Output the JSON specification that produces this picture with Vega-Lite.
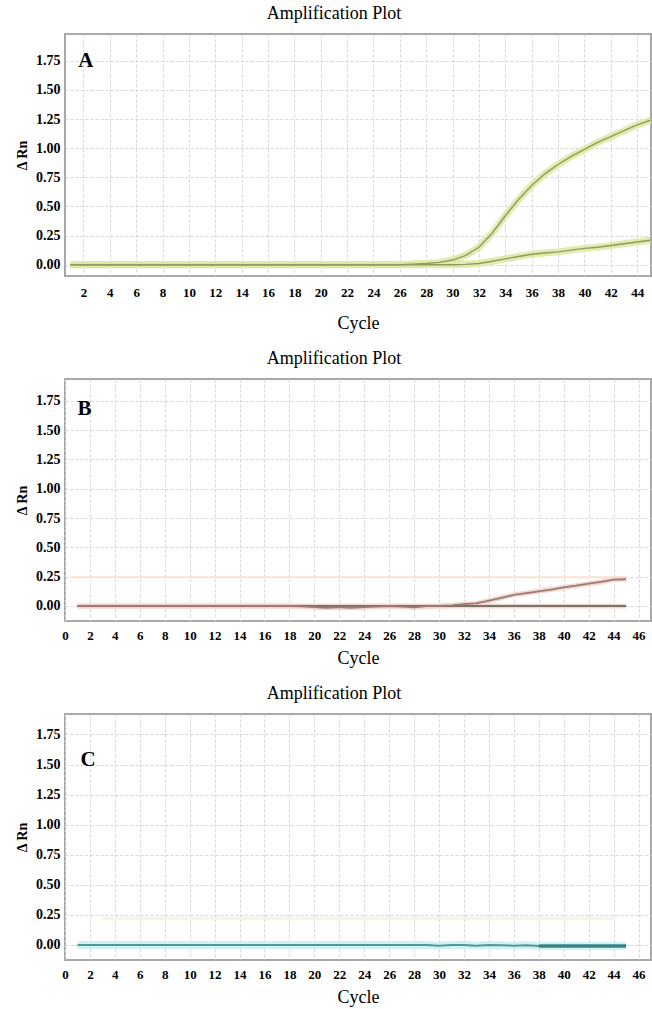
{
  "$schema": "https://vega.github.io/schema/vega-lite/v6.json",
  "background": "white",
  "padding": {"left": 14, "top": 4, "right": 0, "bottom": 0},
  "config": {
    "font": "Liberation Serif, Times New Roman, serif",
    "view": {"stroke": "#a8a8a8", "strokeWidth": 2},
    "axis": {"labelFont": "Liberation Serif, Times New Roman, serif", "labelFontWeight": "bold", "labelFontSize": 14, "labelColor": "#000", "titleFont": "Liberation Serif, Times New Roman, serif", "titleColor": "#000", "ticks": false, "domain": false, "gridColor": "#d6d6d6", "gridDash": [3, 2], "gridWidth": 1},
    "axisY": {"titleFontWeight": "bold", "titleFontSize": 14, "labelPadding": 5, "titlePadding": 6},
    "axisX": {"titleFontWeight": "normal", "titleFontSize": 18, "labelFontSize": 13, "labelFlush": false},
    "title": {"font": "Liberation Serif, Times New Roman, serif", "fontSize": 18, "fontWeight": "normal", "color": "#000", "offset": 11},
    "concat": {"spacing": 16}
  },
  "datasets": {
    "curves": [
      {"panel":"A","series":"H","cycle":1,"rn":0},{"panel":"A","series":"H","cycle":2,"rn":0},{"panel":"A","series":"H","cycle":3,"rn":0},{"panel":"A","series":"H","cycle":4,"rn":0},{"panel":"A","series":"H","cycle":5,"rn":0},{"panel":"A","series":"H","cycle":6,"rn":0},{"panel":"A","series":"H","cycle":7,"rn":0},{"panel":"A","series":"H","cycle":8,"rn":0},{"panel":"A","series":"H","cycle":9,"rn":0},{"panel":"A","series":"H","cycle":10,"rn":0},{"panel":"A","series":"H","cycle":11,"rn":0},{"panel":"A","series":"H","cycle":12,"rn":0},{"panel":"A","series":"H","cycle":13,"rn":0},{"panel":"A","series":"H","cycle":14,"rn":0},{"panel":"A","series":"H","cycle":15,"rn":0},{"panel":"A","series":"H","cycle":16,"rn":0},{"panel":"A","series":"H","cycle":17,"rn":0},{"panel":"A","series":"H","cycle":18,"rn":0},{"panel":"A","series":"H","cycle":19,"rn":0},{"panel":"A","series":"H","cycle":20,"rn":0},{"panel":"A","series":"H","cycle":21,"rn":0},{"panel":"A","series":"H","cycle":22,"rn":0},{"panel":"A","series":"H","cycle":23,"rn":0},{"panel":"A","series":"H","cycle":24,"rn":0},{"panel":"A","series":"H","cycle":25,"rn":0},{"panel":"A","series":"H","cycle":26,"rn":0},{"panel":"A","series":"H","cycle":27,"rn":0.005},{"panel":"A","series":"H","cycle":28,"rn":0.01},{"panel":"A","series":"H","cycle":29,"rn":0.02},{"panel":"A","series":"H","cycle":30,"rn":0.04},{"panel":"A","series":"H","cycle":31,"rn":0.08},{"panel":"A","series":"H","cycle":32,"rn":0.15},{"panel":"A","series":"H","cycle":33,"rn":0.27},{"panel":"A","series":"H","cycle":34,"rn":0.42},{"panel":"A","series":"H","cycle":35,"rn":0.56},{"panel":"A","series":"H","cycle":36,"rn":0.68},{"panel":"A","series":"H","cycle":37,"rn":0.78},{"panel":"A","series":"H","cycle":38,"rn":0.86},{"panel":"A","series":"H","cycle":39,"rn":0.93},{"panel":"A","series":"H","cycle":40,"rn":0.99},{"panel":"A","series":"H","cycle":41,"rn":1.05},{"panel":"A","series":"H","cycle":42,"rn":1.1},{"panel":"A","series":"H","cycle":43,"rn":1.15},{"panel":"A","series":"H","cycle":44,"rn":1.2},{"panel":"A","series":"H","cycle":45,"rn":1.24},
      {"panel":"A","series":"L","cycle":1,"rn":0},{"panel":"A","series":"L","cycle":5,"rn":0},{"panel":"A","series":"L","cycle":10,"rn":0},{"panel":"A","series":"L","cycle":15,"rn":0},{"panel":"A","series":"L","cycle":20,"rn":0},{"panel":"A","series":"L","cycle":25,"rn":0},{"panel":"A","series":"L","cycle":29,"rn":0},{"panel":"A","series":"L","cycle":30,"rn":0},{"panel":"A","series":"L","cycle":31,"rn":0.003},{"panel":"A","series":"L","cycle":32,"rn":0.01},{"panel":"A","series":"L","cycle":33,"rn":0.03},{"panel":"A","series":"L","cycle":34,"rn":0.05},{"panel":"A","series":"L","cycle":35,"rn":0.07},{"panel":"A","series":"L","cycle":36,"rn":0.09},{"panel":"A","series":"L","cycle":37,"rn":0.1},{"panel":"A","series":"L","cycle":38,"rn":0.11},{"panel":"A","series":"L","cycle":39,"rn":0.125},{"panel":"A","series":"L","cycle":40,"rn":0.14},{"panel":"A","series":"L","cycle":41,"rn":0.15},{"panel":"A","series":"L","cycle":42,"rn":0.165},{"panel":"A","series":"L","cycle":43,"rn":0.18},{"panel":"A","series":"L","cycle":44,"rn":0.195},{"panel":"A","series":"L","cycle":45,"rn":0.21},
      {"panel":"B","series":"base","cycle":1,"rn":0},{"panel":"B","series":"base","cycle":45,"rn":0},
      {"panel":"B","series":"red","cycle":1,"rn":0},{"panel":"B","series":"red","cycle":10,"rn":0},{"panel":"B","series":"red","cycle":18,"rn":0},{"panel":"B","series":"red","cycle":19,"rn":-0.003},{"panel":"B","series":"red","cycle":20,"rn":-0.01},{"panel":"B","series":"red","cycle":21,"rn":-0.015},{"panel":"B","series":"red","cycle":22,"rn":-0.01},{"panel":"B","series":"red","cycle":23,"rn":-0.015},{"panel":"B","series":"red","cycle":24,"rn":-0.01},{"panel":"B","series":"red","cycle":25,"rn":-0.005},{"panel":"B","series":"red","cycle":26,"rn":0},{"panel":"B","series":"red","cycle":27,"rn":-0.005},{"panel":"B","series":"red","cycle":28,"rn":-0.012},{"panel":"B","series":"red","cycle":29,"rn":-0.002},{"panel":"B","series":"red","cycle":30,"rn":0},{"panel":"B","series":"red","cycle":31,"rn":0.005},{"panel":"B","series":"red","cycle":32,"rn":0.015},{"panel":"B","series":"red","cycle":33,"rn":0.022},{"panel":"B","series":"red","cycle":34,"rn":0.045},{"panel":"B","series":"red","cycle":35,"rn":0.07},{"panel":"B","series":"red","cycle":36,"rn":0.095},{"panel":"B","series":"red","cycle":37,"rn":0.11},{"panel":"B","series":"red","cycle":38,"rn":0.125},{"panel":"B","series":"red","cycle":39,"rn":0.14},{"panel":"B","series":"red","cycle":40,"rn":0.158},{"panel":"B","series":"red","cycle":41,"rn":0.173},{"panel":"B","series":"red","cycle":42,"rn":0.19},{"panel":"B","series":"red","cycle":43,"rn":0.205},{"panel":"B","series":"red","cycle":44,"rn":0.225},{"panel":"B","series":"red","cycle":45,"rn":0.228},
      {"panel":"C","series":"teal","cycle":1,"rn":0},{"panel":"C","series":"teal","cycle":10,"rn":0},{"panel":"C","series":"teal","cycle":20,"rn":0},{"panel":"C","series":"teal","cycle":29,"rn":0},{"panel":"C","series":"teal","cycle":30,"rn":-0.006},{"panel":"C","series":"teal","cycle":31,"rn":0},{"panel":"C","series":"teal","cycle":32,"rn":0},{"panel":"C","series":"teal","cycle":33,"rn":-0.006},{"panel":"C","series":"teal","cycle":34,"rn":0},{"panel":"C","series":"teal","cycle":35,"rn":-0.002},{"panel":"C","series":"teal","cycle":36,"rn":-0.006},{"panel":"C","series":"teal","cycle":37,"rn":-0.002},{"panel":"C","series":"teal","cycle":38,"rn":-0.008},{"panel":"C","series":"teal","cycle":39,"rn":-0.008},{"panel":"C","series":"teal","cycle":40,"rn":-0.008},{"panel":"C","series":"teal","cycle":41,"rn":-0.008},{"panel":"C","series":"teal","cycle":42,"rn":-0.008},{"panel":"C","series":"teal","cycle":43,"rn":-0.008},{"panel":"C","series":"teal","cycle":44,"rn":-0.008},{"panel":"C","series":"teal","cycle":45,"rn":-0.008},
      {"panel":"C","series":"dark","cycle":38,"rn":-0.008},{"panel":"C","series":"dark","cycle":45,"rn":-0.008}
    ],
    "labels": [
      {"panel":"A","cycle":1.6,"rn":1.75,"name":"A"},
      {"panel":"B","cycle":1.0,"rn":1.68,"name":"B"},
      {"panel":"C","cycle":1.25,"rn":1.54,"name":"C"}
    ],
    "thresholds": [
      {"panel":"B","cycle":0.5,"cycle2":45,"rn":0.245},
      {"panel":"C","cycle":3,"cycle2":44,"rn":0.22}
    ]
  },
  "vconcat": [
    {
      "title": {"text": "Amplification Plot", "dx": -24},
      "width": 586, "height": 242,
      "encoding": {
        "x": {"field": "cycle", "type": "quantitative", "scale": {"domain": [0.6, 45.05], "nice": false, "zero": false},
              "axis": {"values": [2,4,6,8,10,12,14,16,18,20,22,24,26,28,30,32,34,36,38,40,42,44], "title": "Cycle", "labelPadding": 10, "titlePadding": 15}},
        "y": {"field": "rn", "type": "quantitative", "scale": {"domain": [-0.097, 1.98], "nice": false, "zero": false},
              "axis": {"values": [0,0.25,0.5,0.75,1,1.25,1.5,1.75], "format": ".2f", "title": "Δ Rn"}}
      },
      "layer": [
        {"data": {"name": "curves"}, "transform": [{"filter": "datum.panel == 'A'"}], "mark": {"type": "line", "strokeWidth": 7, "color": "#dde9a4", "opacity": 0.9, "clip": true}, "encoding": {"detail": {"field": "series"}}},
        {"data": {"name": "curves"}, "transform": [{"filter": "datum.panel == 'A'"}], "mark": {"type": "line", "strokeWidth": 1.4, "color": "#8f9b60", "clip": true}, "encoding": {"detail": {"field": "series"}}},
        {"data": {"name": "labels"}, "transform": [{"filter": "datum.panel == 'A'"}], "mark": {"type": "text", "align": "left", "baseline": "middle", "fontSize": 21, "fontWeight": "bold", "font": "Liberation Serif, Times New Roman, serif", "color": "#000"}, "encoding": {"text": {"field": "name"}}}
      ]
    },
    {
      "title": {"text": "Amplification Plot", "dx": -24},
      "width": 586, "height": 242,
      "encoding": {
        "x": {"field": "cycle", "type": "quantitative", "scale": {"domain": [0, 47], "nice": false, "zero": false},
              "axis": {"values": [0,2,4,6,8,10,12,14,16,18,20,22,24,26,28,30,32,34,36,38,40,42,44,46], "title": "Cycle", "labelPadding": 8, "titlePadding": 7}},
        "y": {"field": "rn", "type": "quantitative", "scale": {"domain": [-0.128, 1.935], "nice": false, "zero": false},
              "axis": {"values": [0,0.25,0.5,0.75,1,1.25,1.5,1.75], "format": ".2f", "title": "Δ Rn"}}
      },
      "layer": [
        {"data": {"name": "thresholds"}, "transform": [{"filter": "datum.panel == 'B'"}], "mark": {"type": "rule", "strokeWidth": 2, "color": "#fbe2cf"}, "encoding": {"x2": {"field": "cycle2"}}},
        {"data": {"name": "curves"}, "transform": [{"filter": "datum.panel == 'B'"}], "mark": {"type": "line", "strokeWidth": 5, "color": "#f3d2cc", "opacity": 0.9}, "encoding": {"detail": {"field": "series"}}},
        {"data": {"name": "curves"}, "transform": [{"filter": "datum.panel == 'B' && datum.series == 'base'"}], "mark": {"type": "line", "strokeWidth": 2.2, "color": "#7a7468"}, "encoding": {}},
        {"data": {"name": "curves"}, "transform": [{"filter": "datum.panel == 'B' && datum.series == 'red'"}], "mark": {"type": "line", "strokeWidth": 1.8, "color": "#9a7c72"}, "encoding": {}},
        {"data": {"name": "labels"}, "transform": [{"filter": "datum.panel == 'B'"}], "mark": {"type": "text", "align": "left", "baseline": "middle", "fontSize": 21, "fontWeight": "bold", "font": "Liberation Serif, Times New Roman, serif", "color": "#000"}, "encoding": {"text": {"field": "name"}}}
      ]
    },
    {
      "title": {"text": "Amplification Plot", "dx": -24},
      "width": 586, "height": 246,
      "encoding": {
        "x": {"field": "cycle", "type": "quantitative", "scale": {"domain": [0, 47], "nice": false, "zero": false},
              "axis": {"values": [0,2,4,6,8,10,12,14,16,18,20,22,24,26,28,30,32,34,36,38,40,42,44,46], "title": "Cycle", "labelPadding": 8, "titlePadding": 7}},
        "y": {"field": "rn", "type": "quantitative", "scale": {"domain": [-0.125, 1.92], "nice": false, "zero": false},
              "axis": {"values": [0,0.25,0.5,0.75,1,1.25,1.5,1.75], "format": ".2f", "title": "Δ Rn"}}
      },
      "layer": [
        {"data": {"name": "thresholds"}, "transform": [{"filter": "datum.panel == 'C'"}], "mark": {"type": "rule", "strokeWidth": 3, "color": "#f2f6e2"}, "encoding": {"x2": {"field": "cycle2"}}},
        {"data": {"name": "curves"}, "transform": [{"filter": "datum.panel == 'C' && datum.series == 'teal'"}], "mark": {"type": "line", "strokeWidth": 8, "color": "#cdeff2", "opacity": 0.9}, "encoding": {}},
        {"data": {"name": "curves"}, "transform": [{"filter": "datum.panel == 'C' && datum.series == 'teal'"}], "mark": {"type": "line", "strokeWidth": 2, "color": "#4f9a9a"}, "encoding": {}},
        {"data": {"name": "curves"}, "transform": [{"filter": "datum.panel == 'C' && datum.series == 'dark'"}], "mark": {"type": "line", "strokeWidth": 3.5, "color": "#3b8484"}, "encoding": {}},
        {"data": {"name": "labels"}, "transform": [{"filter": "datum.panel == 'C'"}], "mark": {"type": "text", "align": "left", "baseline": "middle", "fontSize": 21, "fontWeight": "bold", "font": "Liberation Serif, Times New Roman, serif", "color": "#000"}, "encoding": {"text": {"field": "name"}}}
      ]
    }
  ]
}
